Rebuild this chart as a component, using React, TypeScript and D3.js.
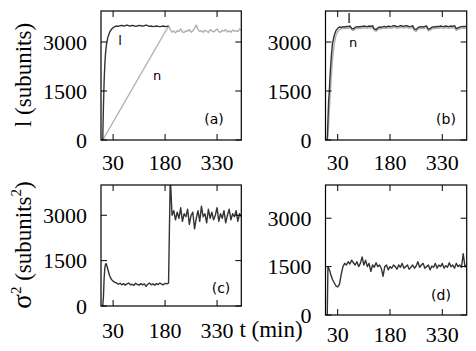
import React from "react";
import * as d3 from "d3";

const width = 476;
const height = 351;

// time grid (min), shared by every series
const times = [
  0, 2, 4, 6, 8, 10, 12,
  15, 20, 25, 30, 35, 40, 45, 50, 55, 60,
  65, 70, 75, 80, 85, 90, 95, 100, 105, 110,
  115, 120, 125, 130, 135, 140, 145, 150, 155, 160,
  165, 170, 175, 180, 185, 190, 195, 200, 205, 210,
  215, 220, 225, 230, 235, 240, 245, 250, 255, 260,
  265, 270, 275, 280, 285, 290, 295, 300, 305, 310,
  315, 320, 325, 330, 335, 340, 345, 350, 355, 360,
  365, 370, 375, 380, 385, 390, 395, 400,
];

const xTicks = [30, 180, 330];
const yTicks = [0, 1500, 3000];

// (a) l up to t=190, n ramps linearly then follows l
const lA = [
  0, 1000, 1800, 2300, 2650, 2850, 3000,
  3150, 3300, 3390, 3440, 3470, 3490, 3480, 3500, 3510, 3490,
  3500, 3520, 3500, 3490, 3510, 3500, 3480, 3490, 3510, 3500,
  3490, 3500, 3520, 3500, 3480, 3490, 3470, 3480, 3490, 3480,
  3470, 3480, 3490, 3470, 3480, 3490,
];
const nARampTimes = [0, 190];
const nARamp = [0, 3490];
const nALate = [
  3380, 3300, 3340, 3280, 3350, 3320, 3400, 3310, 3290, 3350,
  3330, 3380, 3300, 3340, 3420, 3520, 3380, 3320, 3350, 3300,
  3360, 3330, 3290, 3380, 3340, 3310, 3350, 3400, 3320, 3300,
  3360, 3330, 3380, 3310, 3340, 3300, 3370, 3330, 3350, 3320,
  3400, 3360,
];

// (b)
const lB = [
  0, 600, 1200, 1500, 1950, 2300, 2600,
  2950, 3200, 3350, 3420, 3460, 3440, 3470, 3460, 3480, 3470,
  3490, 3420, 3400, 3450, 3470, 3460, 3480, 3470, 3490, 3480,
  3470, 3490, 3480, 3500, 3400, 3380, 3430, 3460, 3450, 3470,
  3480, 3460, 3490, 3470, 3480, 3500, 3490, 3470, 3480, 3500,
  3490, 3480, 3500, 3490, 3470, 3480, 3500, 3400, 3380, 3440,
  3460, 3470, 3460, 3480, 3490, 3390, 3410, 3450, 3470, 3460,
  3480, 3470, 3490, 3480, 3470, 3490, 3480, 3470, 3490, 3480,
  3500, 3410, 3430, 3460, 3470, 3480, 3470, 3490,
];
const nB = [
  0, 100, 500, 900, 1300, 1650, 2000,
  2450, 2950, 3200, 3320, 3380, 3400, 3420, 3410, 3430, 3420,
  3440, 3380, 3350, 3400, 3420, 3410, 3430, 3420, 3440, 3430,
  3420, 3440, 3430, 3450, 3360, 3330, 3380, 3410, 3400, 3420,
  3430, 3410, 3440, 3420, 3430, 3450, 3440, 3420, 3430, 3450,
  3440, 3430, 3450, 3440, 3420, 3430, 3450, 3350, 3330, 3390,
  3410, 3420, 3410, 3430, 3440, 3340, 3360, 3400, 3420, 3410,
  3430, 3420, 3440, 3430, 3420, 3440, 3430, 3420, 3440, 3430,
  3450, 3360, 3380, 3410, 3420, 3430, 3420, 3440,
];

// (c) and (d) variance
const sigC = [
  0, 300, 900, 1250, 1380, 1400, 1330,
  1200, 1000, 880, 820, 780, 760, 720, 750, 700, 740,
  690, 730, 760, 700, 720, 680, 750, 710, 690, 740,
  700, 730, 650, 720, 760, 700, 730, 690, 740, 710,
  760, 720, 700, 750, 730, 760, 4300, 3000, 3150, 2850,
  3100, 2900, 3250, 2800, 3050, 2950, 3200, 2700, 3000, 3100,
  2550, 2900, 3150, 2800, 3300, 2950, 3050, 2750, 3200, 2900,
  3100, 2850, 3000, 3250, 2800, 3050, 2900, 3150, 2750, 3000,
  3200, 2850, 3050, 2950, 3150, 2800, 3050, 2950,
];
const sigD = [
  0, 1500, 1450, 1400, 1350, 1250, 1200,
  1100, 1000, 900, 870, 950, 1250, 1500, 1600, 1550, 1650,
  1580, 1700, 1620, 1550, 1650, 1500, 1600, 1800, 1550, 1700,
  1500, 1600, 1350, 1550, 1480, 1620, 1500, 1550, 1450, 1200,
  1500, 1550, 1400, 1500, 1450, 1550, 1500, 1420, 1550, 1480,
  1600, 1450, 1500, 1550, 1420, 1480, 1550, 1450, 1520, 1650,
  1480, 1550, 1600, 1450, 1500, 1550, 1400, 1520, 1480, 1600,
  1450, 1550, 1500, 1600, 1450, 1530, 1480, 1620, 1500, 1550,
  1450, 1600, 1500, 1550, 1480, 1900, 1500, 1550,
];

const dark = "#333333";
const grey = "#b0b0b0";
const serif = { fontFamily: "Liberation Serif" };
const sans = { fontFamily: "DejaVu Sans" };

function pts(ts, vs) {
  return vs.map((v, i) => ({ t: ts[i], v }));
}

function Panel(props) {
  const { id, xRange, yRange, yMax, series, tag, tagX, tagY, notes, labelY } = props;
  const x = d3.scaleLinear().domain([-5, 400]).range(xRange);
  const y = d3.scaleLinear().domain([0, yMax]).range(yRange);
  const line = d3
    .line()
    .x((d) => x(d.t))
    .y((d) => y(d.v));
  const [x0, x1] = xRange;
  const [yb, yt] = yRange;
  const tl = 6;
  return (
    <g>
      <defs>
        <clipPath id={"clip-" + id}>
          <rect x={x0} y={yt} width={x1 - x0} height={yb - yt} />
        </clipPath>
      </defs>
      <g clipPath={`url(#clip-${id})`}>
        {series.map((s, i) => (
          <path key={i} d={line(s.data)} fill="none" stroke={s.color} strokeWidth={1.4} strokeLinejoin="round" />
        ))}
      </g>
      {xTicks.map((t) => (
        <g key={"x" + t} stroke="#000" strokeWidth={1}>
          <line x1={x(t)} x2={x(t)} y1={yb} y2={yb - tl} />
          <line x1={x(t)} x2={x(t)} y1={yt} y2={yt + tl} />
        </g>
      ))}
      {yTicks.map((v) => (
        <g key={"y" + v} stroke="#000" strokeWidth={1}>
          <line x1={x0} x2={x0 + tl} y1={y(v)} y2={y(v)} />
          <line x1={x1} x2={x1 - tl} y1={y(v)} y2={y(v)} />
        </g>
      ))}
      <rect x={x0} y={yt} width={x1 - x0} height={yb - yt} fill="none" stroke="#000" strokeWidth={1.2} />
      {xTicks.map((t) => (
        <text key={"xl" + t} x={x(t)} y={labelY} textAnchor="middle" style={serif} fontSize={22}>
          {t}
        </text>
      ))}
      {yTicks.map((v) => (
        <text key={"yl" + v} x={x0 - 14} y={y(v) + 7.5} textAnchor="end" style={serif} fontSize={22}>
          {v}
        </text>
      ))}
      <text x={tagX} y={tagY} textAnchor="middle" style={sans} fontSize={14}>
        {tag}
      </text>
      {notes.map((n) => (
        <text key={n.text} x={n.x} y={n.y} textAnchor="middle" style={sans} fontSize={13}>
          {n.text}
        </text>
      ))}
    </g>
  );
}

export default function App() {
  const nA = [
    ...pts(nARampTimes, nARamp),
    ...pts(times.slice(43), nALate),
  ];
  return (
    <svg width={width} height={height} style={{ display: "block", position: "absolute", left: 0, top: 0 }}>
      <rect width={width} height={height} fill="#fff" />
      <Panel
        id="a"
        xRange={[101, 241.3]}
        yRange={[140, 11]}
        yMax={3950}
        series={[
          { data: nA, color: grey },
          { data: pts(times, lA), color: dark },
        ]}
        tag="(a)"
        tagX={214}
        tagY={124}
        notes={[
          { text: "l", x: 120, y: 45 },
          { text: "n", x: 157, y: 80 },
        ]}
        labelY={170}
      />
      <Panel
        id="b"
        xRange={[325.5, 466.7]}
        yRange={[140, 11]}
        yMax={3950}
        series={[
          { data: pts(times, nB), color: grey },
          { data: pts(times, lB), color: dark },
        ]}
        tag="(b)"
        tagX={446}
        tagY={124}
        notes={[
          { text: "l", x: 349, y: 23 },
          { text: "n", x: 353, y: 47 },
        ]}
        labelY={170}
      />
      <Panel
        id="c"
        xRange={[101, 241.3]}
        yRange={[306, 185]}
        yMax={4000}
        series={[{ data: pts(times, sigC), color: dark }]}
        tag="(c)"
        tagX={221}
        tagY={293}
        notes={[]}
        labelY={338}
      />
      <Panel
        id="d"
        xRange={[325.5, 466.7]}
        yRange={[315, 185]}
        yMax={4030}
        series={[{ data: pts(times, sigD), color: dark }]}
        tag="(d)"
        tagX={441}
        tagY={300}
        notes={[]}
        labelY={342}
      />
      <text transform="translate(31,75) rotate(-90)" textAnchor="middle" style={serif} fontSize={23}>
        l (subunits)
      </text>
      <text transform="translate(31,245) rotate(-90)" textAnchor="middle" style={serif} fontSize={23}>
        <tspan fontSize={27}>σ</tspan>
        <tspan fontSize={15} dy={-10}>2</tspan>
        <tspan dy={10}> (subunits</tspan>
        <tspan fontSize={15} dy={-10}>2</tspan>
        <tspan dy={10}>)</tspan>
      </text>
      <text x={271} y={337} textAnchor="middle" style={serif} fontSize={23}>
        t (min)
      </text>
    </svg>
  );
}
